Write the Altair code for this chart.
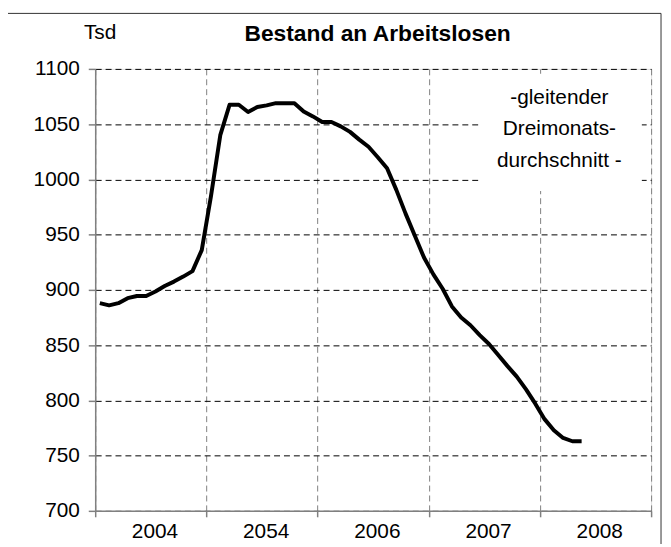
import altair as alt
import pandas as pd

# ---- data ----
years = ["2004", "2054", "2006", "2007", "2008"]
values = [
    888, 886, 888, 892.5, 894.5, 894.5, 898.5, 903.5, 907.5, 912, 917, 936,          # 2004
    985, 1040, 1067.5, 1067.5, 1061, 1065.5, 1067, 1069, 1069, 1069, 1061.5, 1057,   # 2005
    1052, 1052, 1048, 1043, 1036, 1029.5, 1020, 1010, 990.5, 969, 949, 929,          # 2006
    914, 901, 885, 875, 868, 859, 851, 841, 831, 821.5, 810, 797,                    # 2007
    783, 773, 766, 763, 763,                                                          # 2008
]
month_index = list(range(len(values)))
y_ticks = [700, 750, 800, 850, 900, 950, 1000, 1050, 1100]
year_bounds = [0, 12, 24, 36, 48, 60]
note_lines = ["-gleitender", "Dreimonats-", "durchschnitt -"]
title_text = "Bestand an Arbeitslosen"
unit_text = "Tsd"

FONT = "Liberation Sans"

df = pd.DataFrame({"m": month_index, "v": values})
df["x"] = df["m"] + 0.5

x_scale = alt.Scale(domain=[0, 60], nice=False, zero=False)
y_scale = alt.Scale(domain=[700, 1100], nice=False, zero=False)

grid_x_axis = alt.Axis(
    values=year_bounds, labels=False, title=None, orient="bottom",
    grid=True, gridDash=[6, 4], gridColor="#808080", gridWidth=1,
    ticks=True, tickSize=6, tickColor="#808080", tickWidth=1.5,
    domainColor="#808080", domainWidth=1.5,
)
y_axis = alt.Axis(
    values=y_ticks, title=None, format="d",
    grid=True, gridDash=[6, 4], gridColor="#000000", gridWidth=1,
    ticks=True, tickSize=7, tickColor="#808080", tickWidth=1.5,
    domainColor="#808080", domainWidth=1.5,
    labelFontSize=21, labelFont=FONT, labelColor="black", labelPadding=9,
)

# white box behind the note (drawn first, covers grid)
box_df = pd.DataFrame({"x1": [41.4], "x2": [59.0], "y1": [1095.5], "y2": [989.6]})
box = alt.Chart(box_df).mark_rect(color="white").encode(
    x=alt.X("x1:Q", scale=x_scale, axis=None),
    x2="x2:Q",
    y=alt.Y("y1:Q", scale=y_scale, axis=y_axis),
    y2="y2:Q",
)

line = alt.Chart(df).mark_line(
    color="black", strokeWidth=4, strokeJoin="round"
).encode(
    x=alt.X("x:Q", scale=x_scale, axis=grid_x_axis),
    y=alt.Y("v:Q", scale=y_scale, axis=y_axis),
)

# year labels on a second bottom axis
label_pos = [i * 12 + 6.4 for i in range(len(years))]
year_arr = "[" + ",".join("'" + y + "'" for y in years) + "]"
label_df = pd.DataFrame({"pos": label_pos, "year": years})
label_axis = alt.Axis(
    values=label_pos, title=None, orient="bottom",
    labelExpr=year_arr + "[floor(datum.value / 12)]",
    ticks=False, domain=False, grid=False,
    labelFontSize=21, labelFont=FONT, labelColor="black", labelPadding=10,
)
labels = alt.Chart(label_df).mark_point(opacity=0).encode(
    x=alt.X("pos:Q", scale=x_scale, axis=label_axis),
)

note_df = pd.DataFrame({"xn": [50.1], "yn": [1074.0]})
note = alt.Chart(note_df).mark_text(
    text=note_lines, font=FONT, fontSize=21, color="black",
    align="center", baseline="middle", lineHeight=32,
).encode(
    x=alt.X("xn:Q", scale=x_scale, axis=None),
    y=alt.Y("yn:Q", scale=y_scale, axis=y_axis),
)

unit = alt.Chart(pd.DataFrame({"t": [unit_text]})).mark_text(
    font=FONT, fontSize=21, color="black", align="center", baseline="alphabetic"
).encode(
    text="t:N", x=alt.value(5), y=alt.value(-30),
)

title = alt.Chart(pd.DataFrame({"t": [title_text]})).mark_text(
    font=FONT, fontSize=23, fontWeight="bold", color="black",
    align="center", baseline="alphabetic"
).encode(
    text="t:N", x=alt.value(285), y=alt.value(-28),
)

frame = alt.Chart(pd.DataFrame({"f": [1]})).mark_rect(
    fill="white", fillOpacity=0, stroke="#333333", strokeWidth=1
).encode(
    x=alt.value(-89), x2=alt.value(571), y=alt.value(-56), y2=alt.value(700),
)

chart = alt.layer(box, line, note, labels, unit, title, frame).resolve_axis(
    x="independent"
).properties(
    width=561, height=446,
    autosize=alt.AutoSizeParams(type="none"),
    padding={"left": 88, "top": 59, "right": 12, "bottom": 31},
).configure_view(stroke=None).configure(background="white")

chart.save("out.html", embed_options={"renderer": "svg", "actions": False})
